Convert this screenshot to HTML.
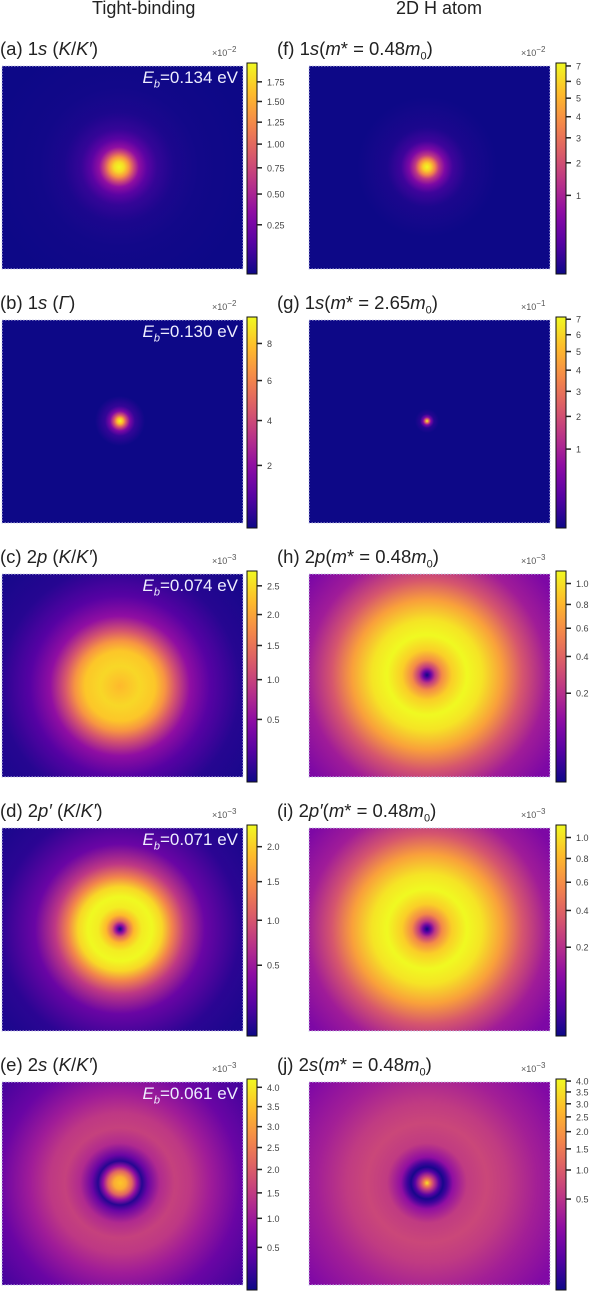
<!DOCTYPE html>
<html><head><meta charset="utf-8">
<style>
body{margin:0;background:#fff;width:600px;height:1292px;overflow:hidden;position:relative;font-family:"Liberation Sans",sans-serif;}
.hdr{position:absolute;top:-2px;font-size:18px;color:#222;}
.lbl{position:absolute;font-size:18.5px;line-height:20px;color:#222;white-space:nowrap;}
.eb{position:absolute;font-size:17px;line-height:18px;color:#eef;white-space:nowrap;text-align:right;width:160px;}
.mul{position:absolute;font-size:9px;color:#555;white-space:nowrap;}
svg{position:absolute;left:0;top:0;}
</style></head>
<body>
<div class="hdr" style="left:92px">Tight-binding</div>
<div class="hdr" style="left:396px">2D H atom</div>
<svg id="fig" width="600" height="1292"></svg>
<div id="labels"></div>
<script>
// ---- data: radial profile radii (px), colour levels (0-1), colorbar ticks ----
const radiiA=[0,5,10,15,20,28,38,55,80,130];
const levelsA=[1,0.93,0.75,0.5,0.3,0.16,0.08,0.03,0.01,0];
const ticksA=[0.25,0.5,0.75,1.0,1.25,1.5,1.75];
const radiiB=[0,3,6,10,15,25];
const levelsB=[1,0.85,0.55,0.25,0.08,0];
const ticksB=[2,4,6,8];
const radiiC=[0,20,35,45,55,70,90,120,170];
const levelsC=[0.85,0.92,0.88,0.75,0.55,0.3,0.15,0.05,0.01];
const ticksC=[0.5,1.0,1.5,2.0,2.5];
const radiiD=[0,4,8,14,22,32,42,52,65,85,120,150];
const levelsD=[0,0.3,0.6,0.85,0.97,1,0.92,0.7,0.45,0.2,0.06,0.03];
const ticksD=[0.5,1.0,1.5,2.0];
const radiiE=[0,6,12,17,22,28,40,55,70,90,120,160];
const levelsE=[0.88,0.82,0.6,0.3,0.05,0.2,0.4,0.48,0.45,0.35,0.2,0.1];
const ticksE=[0.5,1.0,1.5,2.0,2.5,3.0,3.5,4.0];
const radiiF=[0,4,8,12,18,26,40,70];
const levelsF=[1,0.9,0.7,0.45,0.25,0.1,0.03,0];
const ticksF=[1,2,3,4,5,6,7];
const radiiG=[0,2,4,7,12];
const levelsG=[1,0.6,0.25,0.05,0];
const ticksG=[1,2,3,4,5,6,7];
const radiiH=[0,4,8,15,25,40,55,75,95,120,150];
const levelsH=[0,0.2,0.45,0.72,0.9,1,0.95,0.78,0.55,0.35,0.25];
const ticksH=[0.2,0.4,0.6,0.8,1.0];
const radiiI=[0,4,8,15,25,40,55,75,95,120,150];
const levelsI=[0,0.2,0.45,0.72,0.9,1,0.95,0.78,0.55,0.35,0.25];
const ticksI=[0.2,0.4,0.6,0.8,1.0];
const radiiJ=[0,3,7,12,16,20,26,40,60,80,110,150];
const levelsJ=[0.95,0.7,0.45,0.15,0.02,0.1,0.3,0.46,0.5,0.46,0.36,0.26];
const ticksJ=[0.5,1.0,1.5,2.0,2.5,3.0,3.5,4.0];
const vmaxes=[2.0,9.5,2.77,2.33,4.22,7.2,7.15,1.13,1.13,4.1];
const gammas=[0.7,0.78,0.71,0.71,0.75,0.5,0.5,0.5,0.5,0.4];
const ebValues=["0.134","0.130","0.074","0.071","0.061"];
const exps=["2","2","3","3","3","2","1","3","3","3"];

const PL=[[13,8,135],[84,2,163],[139,10,165],[185,50,137],[219,92,104],[244,136,73],[254,188,43],[240,249,33]];
function plasma(t){t=Math.max(0,Math.min(1,t));const s=t*(PL.length-1);const i=Math.min(PL.length-2,Math.floor(s));const f=s-i;
 const c=PL[i].map((v,k)=>Math.round(v+(PL[i+1][k]-v)*f));return `rgb(${c[0]},${c[1]},${c[2]})`;}
const NS="http://www.w3.org/2000/svg";
const svg=document.getElementById('fig');
const defs=document.createElementNS(NS,'defs');svg.appendChild(defs);
function el(tag,attrs,parent){const e=document.createElementNS(NS,tag);for(const k in attrs)e.setAttribute(k,attrs[k]);(parent||svg).appendChild(e);return e;}

const panels=[
 {id:'a',r:radiiA,l:levelsA,t:ticksA,col:0,row:0,cx:117,cy:101},
 {id:'b',r:radiiB,l:levelsB,t:ticksB,col:0,row:1,cx:118,cy:101},
 {id:'c',r:radiiC,l:levelsC,t:ticksC,col:0,row:2,cx:118,cy:112},
 {id:'d',r:radiiD,l:levelsD,t:ticksD,col:0,row:3,cx:118,cy:101},
 {id:'e',r:radiiE,l:levelsE,t:ticksE,col:0,row:4,cx:118,cy:101},
 {id:'f',r:radiiF,l:levelsF,t:ticksF,col:1,row:0,cx:118,cy:101},
 {id:'g',r:radiiG,l:levelsG,t:ticksG,col:1,row:1,cx:118,cy:101},
 {id:'h',r:radiiH,l:levelsH,t:ticksH,col:1,row:2,cx:118,cy:101},
 {id:'i',r:radiiI,l:levelsI,t:ticksI,col:1,row:3,cx:118,cy:101},
 {id:'j',r:radiiJ,l:levelsJ,t:ticksJ,col:1,row:4,cx:118,cy:101},
];
const labelsHTML=[
 '(a) 1<i>s</i> (<i>K</i>/<i>K′</i>)','(b) 1<i>s</i> (<i>Γ</i>)','(c) 2<i>p</i> (<i>K</i>/<i>K′</i>)',
 '(d) 2<i>p′</i> (<i>K</i>/<i>K′</i>)','(e) 2<i>s</i> (<i>K</i>/<i>K′</i>)',
 '(f) 1<i>s</i>(<i>m</i>* = 0.48<i>m</i><sub style="font-size:11px">0</sub>)',
 '(g) 1<i>s</i>(<i>m</i>* = 2.65<i>m</i><sub style="font-size:11px">0</sub>)',
 '(h) 2<i>p</i>(<i>m</i>* = 0.48<i>m</i><sub style="font-size:11px">0</sub>)',
 '(i) 2<i>p′</i>(<i>m</i>* = 0.48<i>m</i><sub style="font-size:11px">0</sub>)',
 '(j) 2<i>s</i>(<i>m</i>* = 0.48<i>m</i><sub style="font-size:11px">0</sub>)'];

const cg=el('linearGradient',{id:'cbar',x1:0,y1:1,x2:0,y2:0},defs);
for(let i=0;i<=20;i++)el('stop',{offset:i/20,'stop-color':plasma(i/20)},cg);

const lab=document.getElementById('labels');
panels.forEach((p,k)=>{
 const x0=p.col?309:2, y0=66+254*p.row, W=241, H=203;
 const R=p.r[p.r.length-1];
 const g=el('radialGradient',{id:'rg'+p.id,gradientUnits:'userSpaceOnUse',cx:x0+p.cx,cy:y0+p.cy,r:R},defs);
 p.r.forEach((rr,i)=>{el('stop',{offset:rr/R,'stop-color':plasma(p.l[i])},g);});
 const hm=el('rect',{x:x0,y:y0,width:W,height:H,fill:'url(#rg'+p.id+')',stroke:'#c8c8e8','stroke-width':1,'stroke-dasharray':'1.5,1.5'});
 
 
 const bx=p.col?556:247, by=y0-3, bh=211;
 const cb=el('rect',{x:bx,y:by,width:10,height:bh,fill:'url(#cbar)',stroke:'#111','stroke-width':1});
 
 
 const vmax=vmaxes[k], gm=gammas[k];
 const yOf=v=>by+bh-bh*Math.pow(v/vmax,gm);
 p.t.forEach(v=>{
  const y=yOf(v);
  const tk=el('line',{x1:bx+10,x2:bx+15,y1:y,y2:y,stroke:'#222','stroke-width':1.5});
  
  
  const tx=el('text',{x:bx+20,y:y+3.5,'font-size':9,fill:'#444','font-family':'Liberation Sans, sans-serif'});
  tx.textContent=(Number.isInteger(v)&&p.t.every(Number.isInteger))?String(v):v.toFixed(p.t.some(q=>Math.round(q*100)%10)?2:1);
  
  
 });
 const d=document.createElement('div');d.className='lbl';
 d.style.left=(p.col?277:0)+'px';d.style.top=(y0-27)+'px';d.innerHTML=labelsHTML[k];
 
 
 lab.appendChild(d);
 const m=document.createElement('div');m.className='mul';
 m.style.left=(p.col?521:212)+'px';m.style.top=(y0-21)+'px';
 m.innerHTML='×10<sup style="font-size:8px">−'+exps[k]+'</sup>';
 
 
 lab.appendChild(m);
 if(!p.col){
  const e=document.createElement('div');e.className='eb';
  e.style.left='78px';e.style.top=(y0+3)+'px';
  e.innerHTML='<i>E</i><sub style="font-size:11px"><i>b</i></sub>='+ebValues[p.row]+' eV';
  
  
  lab.appendChild(e);
 }
});
</script>
</body></html>
